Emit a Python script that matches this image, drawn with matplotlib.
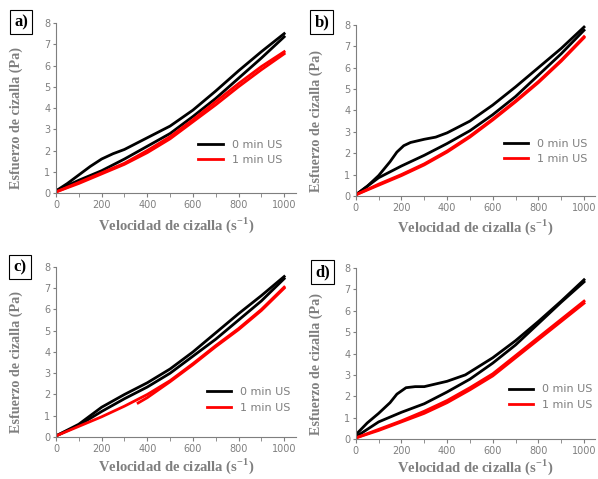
import matplotlib.pyplot as plt
from matplotlib.ticker import MultipleLocator

# ---- data (shear rate s-1, shear stress Pa) ----
# panel a
a_x_up = [0, 50, 100, 150, 200, 250, 300, 400, 500, 600, 700, 800, 900, 1000]
a_k_up = [0.1, 0.45, 0.85, 1.25, 1.6, 1.85, 2.05, 2.6, 3.15, 3.9, 4.8, 5.75, 6.65, 7.5]
a_x_dn = [0, 100, 200, 300, 400, 500, 600, 700, 800, 900, 1000]
a_k_dn = [0.1, 0.6, 1.05, 1.6, 2.2, 2.8, 3.6, 4.45, 5.4, 6.35, 7.35]
a_r_up = [0.05, 0.5, 0.95, 1.4, 2.0, 2.65, 3.45, 4.3, 5.15, 5.95, 6.65]
a_r_dn = [0.05, 0.45, 0.9, 1.35, 1.9, 2.55, 3.35, 4.15, 5.0, 5.8, 6.55]

# panel b
b_x_up = [0, 50, 100, 150, 180, 210, 240, 300, 350, 400, 500, 600, 700, 800, 900, 1000]
b_k_up = [0.05, 0.45, 0.95, 1.6, 2.05, 2.35, 2.5, 2.65, 2.75, 2.95, 3.5, 4.25, 5.1, 6.0, 6.9, 7.9]
b_x_dn = [0, 100, 200, 300, 400, 500, 600, 700, 800, 900, 1000]
b_k_dn = [0.05, 0.85, 1.4, 1.9, 2.45, 3.05, 3.8, 4.65, 5.65, 6.65, 7.75]
b_r_up = [0.05, 0.55, 1.0, 1.5, 2.1, 2.8, 3.6, 4.45, 5.35, 6.35, 7.45]
b_r_dn = [0.05, 0.5, 0.95, 1.45, 2.05, 2.75, 3.55, 4.4, 5.3, 6.3, 7.4]

# panel c
c_x = [0, 100, 200, 300, 400, 500, 600, 700, 800, 900, 1000]
c_k_up = [0.05, 0.6, 1.4, 2.0, 2.55, 3.2, 4.0, 4.9, 5.8, 6.65, 7.55]
c_k_dn = [0.05, 0.55, 1.2, 1.8, 2.35, 3.0, 3.8, 4.6, 5.5, 6.4, 7.45]
c_r_up = [0.05, 0.5, 0.95, 1.45, 2.0, 2.65, 3.45, 4.3, 5.1, 6.0, 7.05]
c_x_rdn = [360, 400, 500, 600, 700, 800, 900, 1000]
c_r_dn = [1.6, 1.85, 2.6, 3.4, 4.25, 5.05, 5.95, 7.0]

# panel d
d_x_up = [0, 50, 100, 150, 180, 220, 260, 300, 400, 480, 600, 700, 800, 900, 1000]
d_k_up = [0.2, 0.75, 1.2, 1.7, 2.1, 2.4, 2.45, 2.45, 2.7, 3.0, 3.8, 4.6, 5.5, 6.45, 7.45]
d_x_dn = [0, 100, 200, 300, 400, 500, 600, 700, 800, 900, 1000]
d_k_dn = [0.1, 0.8, 1.25, 1.65, 2.2, 2.8, 3.55, 4.4, 5.4, 6.4, 7.35]
d_r_up = [0.05, 0.45, 0.85, 1.3, 1.8, 2.4, 3.05, 3.9, 4.75, 5.6, 6.45]
d_r_dn = [0.05, 0.4, 0.8, 1.2, 1.7, 2.3, 2.95, 3.8, 4.65, 5.5, 6.35]

panels = [
    ("a)", [0.0936, 0.597, 0.4007, 0.355], (a_x_up, a_k_up, a_x_dn, a_k_dn),
     (a_x_dn, a_r_up, a_x_dn, a_r_dn), (0.575, 0.34), (-0.146, 1.005), 4),
    ("b)", [0.595, 0.591, 0.4007, 0.357], (b_x_up, b_k_up, b_x_dn, b_k_dn),
     (b_x_dn, b_r_up, b_x_dn, b_r_dn), (0.60, 0.36), (-0.142, 1.017), 3),
    ("c)", [0.0936, 0.0877, 0.4007, 0.355], (c_x, c_k_up, c_x, c_k_dn),
     (c_x, c_r_up, c_x_rdn, c_r_dn), (0.61, 0.32), (-0.15, 1.0), 2),
    ("d)", [0.595, 0.0835, 0.4007, 0.357], (d_x_up, d_k_up, d_x_dn, d_k_dn),
     (d_x_dn, d_r_up, d_x_dn, d_r_dn), (0.62, 0.345), (-0.138, 0.977), 1),
]

gray = "#7f7f7f"
fig = plt.figure(figsize=(5.98, 4.79), dpi=100)

for letter, pos, blk, red, leg, lpos, xpad in panels:
    ax = fig.add_axes(pos)
    ax.plot(blk[0], blk[1], color="black", lw=2, label="0 min US")
    ax.plot(blk[2], blk[3], color="black", lw=2)
    ax.plot(red[0], red[1], color="red", lw=2, label="1 min US")
    ax.plot(red[2], red[3], color="red", lw=2)

    ax.set_xlim(0, 1050)
    ax.set_ylim(0, 8)
    ax.set_xticks([0, 200, 400, 600, 800, 1000])
    ax.xaxis.set_minor_locator(MultipleLocator(100))
    ax.set_yticks(range(0, 9))
    for s in ["top", "right"]:
        ax.spines[s].set_visible(False)
    for s in ["left", "bottom"]:
        ax.spines[s].set_color(gray)
    ax.tick_params(which="both", direction="out", color=gray, labelcolor=gray,
                   labelsize=7, length=3, pad=2)
    ax.tick_params(axis="y", length=2)

    ax.set_xlabel("Velocidad de cizalla (s$^{\\mathregular{-1}}$)", family="Liberation Serif",
                  fontweight="bold", fontsize=10.5, color=gray, labelpad=xpad)
    ax.set_ylabel("Esfuerzo de cizalla (Pa)", family="Liberation Serif",
                  fontweight="bold", fontsize=10.2, color=gray)
    ax.yaxis.set_label_coords(-0.138, 0.44)

    ax.legend(loc="upper left", bbox_to_anchor=leg, frameon=False, fontsize=8,
              handlelength=2.2, labelcolor=gray, borderaxespad=0, labelspacing=0.5)

    ax.text(lpos[0], lpos[1], letter, transform=ax.transAxes, family="Liberation Serif",
            fontweight="bold", fontsize=12, va="center", ha="center",
            bbox=dict(boxstyle="square,pad=0.25", fc="white", ec="black", lw=0.8))

fig.savefig("out.png", dpi=100)
